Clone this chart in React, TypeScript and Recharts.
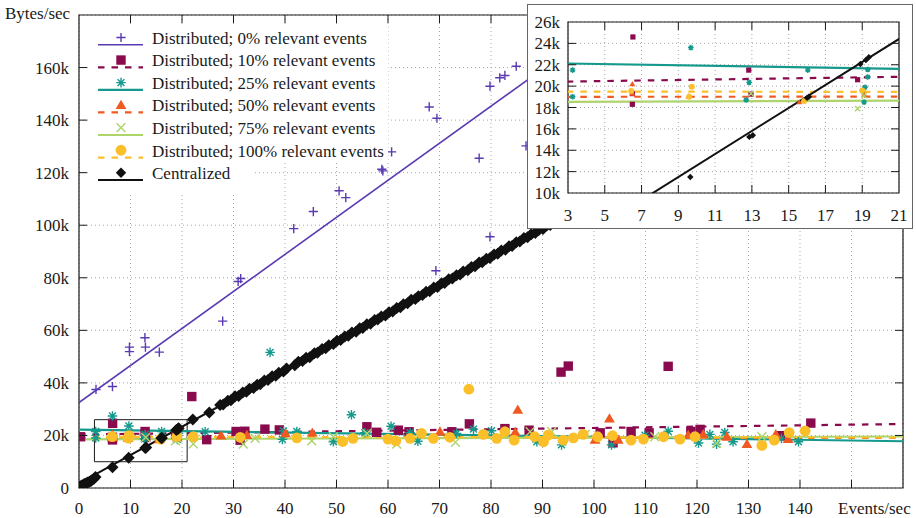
import React from 'react';
import { ComposedChart, Scatter, Line, XAxis, YAxis, CartesianGrid, ReferenceArea } from 'recharts';

// ---------- data (x: events/sec, y: thousands of bytes/sec) ----------
const xTicks = [0, 10, 20, 30, 40, 50, 60, 70, 80, 90, 100, 110, 120, 130, 140, 150, 160];
const yTicks = [0, 20, 40, 60, 80, 100, 120, 140, 160, 180];
const insetXTicks = [3, 5, 7, 9, 11, 13, 15, 17, 19, 21];
const insetYTicks = [10, 12, 14, 16, 18, 20, 22, 24, 26];

const seriesNames = [
  'Distributed; 0% relevant events',
  'Distributed; 10% relevant events',
  'Distributed; 25% relevant events',
  'Distributed; 50% relevant events',
  'Distributed; 75% relevant events',
  'Distributed; 100% relevant events',
  'Centralized',
];

const dist0Points = [
  [3.3, 37.5], [6.5, 38.6], [9.8, 53.6], [9.8, 51.9], [12.8, 57.2], [12.9, 53.6], [15.6, 51.7],
  [27.9, 63.5], [30.9, 78.6], [31.4, 79.7], [41.7, 98.7], [45.5, 105.2], [50.5, 113.1], [51.8, 110.5],
  [58.8, 121.3], [59.0, 120.7], [60.7, 127.9], [68.0, 145.0], [69.5, 140.7], [69.3, 82.7], [77.7, 125.5],
  [79.8, 95.6], [79.8, 152.9], [81.7, 156.1], [82.7, 157.0], [84.9, 160.5], [86.8, 130.2],
];
const dist10Points = [
  [0.3, 19.5], [6.53, 24.6], [6.5, 18.3], [6.5, 19.3], [12.83, 21.5], [12.95, 19.25], [18.75, 20.6],
  [21.9, 34.8], [24.8, 18.4], [30.5, 21.5], [31.3, 18.2], [32.2, 21.6], [36.1, 22.4], [38.9, 22.1],
  [55.9, 23.3], [57.8, 21.2], [62.0, 22.0], [64.1, 21.4], [72.4, 21.4], [75.8, 24.4], [82.7, 22.6],
  [87.4, 22.0], [93.6, 44.1], [95.0, 46.4], [101.2, 21.0], [103.7, 17.2], [107.2, 21.5], [110.7, 21.0],
  [114.4, 46.3], [118.8, 21.5], [120.6, 22.3], [136.2, 19.9], [142.1, 24.7],
];
const dist25Points = [
  [3.25, 21.5], [3.25, 19.0], [6.5, 27.4], [9.68, 23.6], [12.69, 18.7], [12.85, 20.35], [16.04, 21.5],
  [19.02, 19.55], [19.1, 18.5], [19.15, 19.9], [19.3, 20.85], [19.3, 21.55], [24.5, 21.4], [37.1, 51.6],
  [39.5, 18.5], [39.7, 21.7], [42.3, 21.5], [49.4, 17.6], [52.9, 27.9], [55.5, 21.0], [60.6, 23.5],
  [64.3, 21.0], [65.8, 17.8], [73.3, 20.8], [76.6, 22.4], [80.1, 21.8], [88.9, 17.6], [93.7, 16.4],
  [103.4, 16.4], [109.9, 20.1], [114.4, 21.6], [120.3, 17.1], [122.5, 20.4], [123.8, 16.7],
  [125.4, 21.1], [127.0, 17.6], [136.4, 18.9], [139.7, 17.6],
];
const dist50Points = [
  [6.5, 20.2], [6.5, 19.3], [9.55, 19.05], [15.58, 18.5], [19.1, 19.2], [27.6, 19.9], [32.6, 20.1],
  [40.1, 20.8], [45.3, 21.0], [70.1, 21.4], [84.7, 21.3], [85.2, 29.7], [100.2, 18.3], [103.0, 26.4],
  [104.7, 18.3], [118.3, 20.1], [121.2, 20.4], [125.8, 19.5], [129.7, 16.7], [135.3, 20.4], [137.7, 18.6],
];
const dist75Points = [
  [12.95, 19.3], [18.75, 17.9], [19.1, 19.1], [22.2, 16.8], [31.9, 16.7], [34.2, 18.9], [45.2, 17.9],
  [49.4, 19.5], [55.9, 20.8], [61.7, 16.7], [73.1, 17.4], [87.6, 21.4], [91.8, 21.4], [98.3, 20.4],
  [111.8, 19.5], [123.8, 17.0], [132.6, 19.5],
];
const dist100Points = [
  [6.44, 19.55], [9.59, 19.0], [9.73, 19.95], [15.84, 18.6], [19.0, 19.6], [22.2, 19.5], [31.3, 19.3],
  [42.3, 19.1], [51.2, 17.7], [53.2, 18.9], [60.0, 18.6], [61.5, 17.9], [64.3, 18.9], [66.5, 20.8],
  [68.8, 18.9], [72.0, 19.3], [75.7, 37.6], [78.5, 20.4], [81.1, 18.9], [82.7, 21.4], [84.5, 18.2],
  [88.5, 19.5], [90.2, 17.6], [91.1, 20.1], [94.0, 18.2], [96.0, 19.1], [97.9, 20.4], [100.7, 19.5],
  [103.6, 19.9], [107.2, 18.2], [109.6, 18.6], [113.5, 19.5], [116.7, 18.6], [119.6, 19.5],
  [132.6, 16.2], [135.0, 18.2], [137.9, 21.1], [141.0, 21.7],
];
const centralPoints = [
  [0, 0.4], [0.2, 0.6], [0.4, 0.8], [0.6, 1.0], [0.9, 1.3], [1.1, 1.5], [1.4, 1.8], [1.7, 2.1],
  [2.0, 2.4], [2.3, 2.7], [2.6, 3.1], [2.9, 3.5], [3.2, 4.2],
  [6.5, 7.9], [9.65, 11.5], [12.86, 15.25], [13.05, 15.4], [16.0, 18.9], [16.1, 19.0],
  [18.9, 22.07], [19.2, 22.45], [19.36, 22.7], [22.1, 26.1], [25.3, 28.7],
  [27.4, 31.6], [28.0, 31.8], [28.9, 33.2], [29.5, 33.4], [30.3, 34.9], [31.0, 35.0], [31.8, 36.3],
  [32.5, 36.6], [33.1, 37.8], [33.9, 38.1], [34.6, 39.3], [35.2, 39.5], [36.0, 40.9], [36.7, 41.1],
  [37.5, 42.5], [38.2, 42.7], [38.8, 43.9], [39.7, 44.3], [40.3, 45.5], [41.9, 46.7], [42.6, 48.0],
  [43.4, 48.3], [44.1, 49.6], [44.8, 49.8], [45.7, 51.3], [46.3, 51.5], [47.2, 52.9], [47.9, 53.2],
  [48.5, 54.3], [49.4, 54.8], [50.1, 56.0], [50.8, 56.3], [51.6, 57.7], [52.3, 57.9], [53.0, 59.2],
  [53.8, 59.5], [54.5, 60.8], [55.1, 60.9], [55.9, 62.3], [56.6, 62.5], [57.4, 63.9], [58.0, 64.1],
  [58.7, 65.3], [59.5, 65.6], [60.2, 66.9], [60.9, 67.2], [61.7, 68.5], [62.4, 68.8], [63.0, 69.9],
  [63.8, 70.3], [64.5, 71.6], [65.3, 71.9], [65.9, 73.0], [66.7, 73.4], [67.4, 74.7], [68.1, 74.9],
  [68.9, 76.3], [69.6, 76.5], [70.4, 77.9], [71.0, 78.0], [71.8, 79.4], [72.5, 79.7], [73.3, 81.0],
  [74.0, 81.2], [74.6, 82.4], [75.5, 82.9], [76.2, 84.1], [76.9, 84.4], [77.7, 85.8], [78.3, 85.9],
  [79.1, 87.2], [79.8, 87.5], [80.6, 88.9], [81.3, 89.1], [82.0, 90.4], [82.8, 90.7], [83.5, 92.0],
  [84.1, 92.1], [84.9, 93.5], [85.6, 93.8], [86.4, 95.1], [87.1, 95.4], [87.8, 96.6], [88.6, 97.0],
  [89.3, 98.2], [90.1, 98.6], [90.8, 99.9], [91.5, 100.1], [92.3, 101.5], [93.0, 101.7], [93.8, 103.1],
  [94.5, 103.3], [95.3, 104.7], [96.0, 105.0], [97.0, 106.5], [98.0, 107.1], [99.0, 108.7], [100.0, 109.3],
];

// fitted lines (start / end)
const dist0Fit = [[0, 32.5], [160, 258.1]];
const dist10Fit = [[0, 20.35], [160, 24.35]];
const dist25Fit = [[0, 22.2], [160, 17.8]];
const dist50Fit = [[0, 19.0], [160, 19.1]];
const dist75Fit = [[0, 18.5], [160, 19.6]];
const dist100Fit = [[0, 19.5], [160, 19.2]];
const centralFit = [[0, 1.8], [160, 174.1]];

// ---------- styling ----------
const FONT = "'Liberation Serif', 'Times New Roman', serif";
const FS = 17;
const TEXT = '#1a1a1a';
const colors = ['#5a3ab2', '#8a0a4e', '#14998c', '#f05a22', '#aed46c', '#fbbf2a', '#111111'];
const kinds = ['plus', 'square', 'star', 'triangle', 'cross', 'circle', 'diamond'];
const dashed = [false, true, false, true, false, true, false];
const lineWidths = [1.6, 2.2, 2.2, 2.2, 2.2, 2.2, 2.0];
const DASH = '6.5 7';

const toXY = (arr: number[][]) => arr.map(([x, y]) => ({ x, y }));
const pointSets = [dist0Points, dist10Points, dist25Points, dist50Points, dist75Points, dist100Points, centralPoints].map(toXY);
const fitSets = [dist0Fit, dist10Fit, dist25Fit, dist50Fit, dist75Fit, dist100Fit, centralFit].map(toXY);

const mainSizes = [4.6, 4.7, 4.8, 5.4, 4.4, 5.4, 6.0];
const legendSizes = [4.6, 4.7, 4.8, 5.4, 4.4, 5.4, 5.2];
const insetSizes = [2.6, 2.6, 2.8, 3.0, 2.6, 3.0, 3.2];

const textStyle = { fontFamily: FONT, fontSize: FS } as const;

function Marker({ kind, cx, cy, s, color }: { kind: string; cx: number; cy: number; s: number; color: string }) {
  if (cx == null || cy == null || isNaN(cx) || isNaN(cy)) return null;
  switch (kind) {
    case 'plus':
      return <path d={`M${cx - s} ${cy}H${cx + s}M${cx} ${cy - s}V${cy + s}`} stroke={color} strokeWidth={1.4} fill="none" />;
    case 'square':
      return <rect x={cx - s} y={cy - s} width={2 * s} height={2 * s} fill={color} />;
    case 'star': {
      const d = s * 0.72;
      return (
        <path
          d={`M${cx - s} ${cy}H${cx + s}M${cx} ${cy - s}V${cy + s}M${cx - d} ${cy - d}L${cx + d} ${cy + d}M${cx - d} ${cy + d}L${cx + d} ${cy - d}`}
          stroke={color}
          strokeWidth={1.4}
          fill="none"
        />
      );
    }
    case 'triangle':
      return <path d={`M${cx} ${cy - s}L${cx + s} ${cy + s * 0.72}L${cx - s} ${cy + s * 0.72}Z`} fill={color} />;
    case 'cross':
      return <path d={`M${cx - s} ${cy - s}L${cx + s} ${cy + s}M${cx - s} ${cy + s}L${cx + s} ${cy - s}`} stroke={color} strokeWidth={1.4} fill="none" />;
    case 'circle':
      return <circle cx={cx} cy={cy} r={s} fill={color} />;
    case 'diamond':
      return <path d={`M${cx} ${cy - s}L${cx + s} ${cy}L${cx} ${cy + s}L${cx - s} ${cy}Z`} fill={color} />;
    default:
      return null;
  }
}

// ---------- layout ----------
const W = 916;
const H = 518;
const PL = 79;
const PR = 903;
const PT = 15;
const PB = 488;

const IX = 528;
const IY = 5;
const IW = 384;
const IH = 223;
const IPL = 40;
const IPR = 371;
const IPT = 17;
const IPB = 188;

const TICK = 8;

function makeXTick(top: number, bottom: number, labelY: number, hidden: number[], first: number, last: number) {
  return (props: any) => {
    const { x, payload } = props;
    const v = payload.value;
    const edge = v === first || v === last;
    return (
      <g>
        {!edge && <line x1={x} x2={x} y1={bottom} y2={bottom - TICK} stroke={TEXT} strokeWidth={1} />}
        {!edge && <line x1={x} x2={x} y1={top} y2={top + TICK} stroke={TEXT} strokeWidth={1} />}
        {hidden.indexOf(v) < 0 && (
          <text x={x} y={labelY} textAnchor="middle" style={textStyle} fill={TEXT}>
            {String(v)}
          </text>
        )}
      </g>
    );
  };
}

function makeYTick(left: number, right: number, labelX: number, hidden: number[], first: number, last: number) {
  return (props: any) => {
    const { y, payload } = props;
    const v = payload.value;
    const edge = v === first || v === last;
    return (
      <g>
        {!edge && <line x1={left} x2={left + TICK} y1={y} y2={y} stroke={TEXT} strokeWidth={1} />}
        {!edge && <line x1={right} x2={right - TICK} y1={y} y2={y} stroke={TEXT} strokeWidth={1} />}
        {hidden.indexOf(v) < 0 && (
          <text x={labelX} y={y + 6} textAnchor="end" style={textStyle} fill={TEXT}>
            {v === 0 ? '0' : `${v}k`}
          </text>
        )}
      </g>
    );
  };
}

function seriesElements(sizes: number[], prefix: string) {
  const out: any[] = [];
  pointSets.forEach((pts, i) => {
    out.push(
      <Scatter
        key={`${prefix}s${i}`}
        data={pts}
        dataKey="y"
        isAnimationActive={false}
        shape={(p: any) => <Marker kind={kinds[i]} cx={p.cx} cy={p.cy} s={sizes[i]} color={colors[i]} />}
      />
    );
    out.push(
      <Line
        key={`${prefix}l${i}`}
        data={fitSets[i]}
        dataKey="y"
        type="linear"
        stroke={colors[i]}
        strokeWidth={lineWidths[i]}
        strokeDasharray={dashed[i] ? DASH : undefined}
        dot={false}
        activeDot={false}
        isAnimationActive={false}
      />
    );
  });
  return out;
}

export default function App() {
  return (
    <div style={{ position: 'absolute', left: 0, top: 0, width: W, height: H, background: '#fff' }}>
      <ComposedChart width={W} height={H} margin={{ top: PT, right: W - PR, bottom: 0, left: 0 }}>
        <CartesianGrid stroke="#a8a8a8" strokeDasharray="1 3" strokeWidth={1} />
        <XAxis
          type="number"
          dataKey="x"
          domain={[0, 160]}
          ticks={xTicks}
          interval={0}
          allowDataOverflow
          height={H - PB}
          axisLine={false}
          tickLine={false}
          tick={makeXTick(PT, PB, 514, [150, 160], 0, 160)}
        />
        <YAxis
          type="number"
          dataKey="y"
          domain={[0, 180]}
          ticks={yTicks}
          interval={0}
          allowDataOverflow
          width={PL}
          axisLine={false}
          tickLine={false}
          tick={makeYTick(PL, PR, 69, [180], 0, 180)}
        />
        <ReferenceArea x1={0} x2={160} y1={0} y2={180} fill="none" stroke={TEXT} strokeWidth={1.2} ifOverflow="visible" />
        <ReferenceArea x1={3} x2={21} y1={10} y2={26} fill="none" stroke={TEXT} strokeWidth={1} ifOverflow="visible" />
        {seriesElements(mainSizes, 'm')}
      </ComposedChart>

      {/* legend and axis titles */}
      <svg width={W} height={H} style={{ position: 'absolute', left: 0, top: 0, pointerEvents: 'none' }}>
        <rect x={88} y={24} width={300} height={139} fill="#fff" />
        <rect x={88} y={163} width={165} height={32} fill="#fff" />
        {seriesNames.map((name, i) => {
          const cy = 38.3 + i * 22.55;
          return (
            <g key={name}>
              <line
                x1={98}
                x2={143}
                y1={cy + 6.5}
                y2={cy + 6.5}
                stroke={colors[i]}
                strokeWidth={lineWidths[i]}
                strokeDasharray={dashed[i] ? DASH : undefined}
              />
              <Marker kind={kinds[i]} cx={121} cy={cy - 0.8} s={legendSizes[i]} color={colors[i]} />
              <text x={152} y={cy + 5.5} style={textStyle} fill={TEXT}>
                {name}
              </text>
            </g>
          );
        })}
        <text x={5} y={19} style={textStyle} fill={TEXT}>
          Bytes/sec
        </text>
        <text x={838} y={514} style={textStyle} fill={TEXT}>
          Events/sec
        </text>
      </svg>

      {/* inset */}
      <div
        style={{
          position: 'absolute',
          left: IX,
          top: IY,
          width: IW,
          height: IH,
          background: '#fff',
          outline: '1.5px solid #666',
        }}
      >
        <ComposedChart width={IW} height={IH} margin={{ top: IPT, right: IW - IPR, bottom: 0, left: 0 }}>
          <CartesianGrid stroke="#a8a8a8" strokeDasharray="1 3" strokeWidth={1} />
          <XAxis
            type="number"
            dataKey="x"
            domain={[3, 21]}
            ticks={insetXTicks}
            interval={0}
            allowDataOverflow
            height={IH - IPB}
            axisLine={false}
            tickLine={false}
            tick={makeXTick(IPT, IPB, 216, [], 3, 21)}
          />
          <YAxis
            type="number"
            dataKey="y"
            domain={[10, 26]}
            ticks={insetYTicks}
            interval={0}
            allowDataOverflow
            width={IPL}
            axisLine={false}
            tickLine={false}
            tick={makeYTick(IPL, IPR, 32, [], 10, 26)}
          />
          <ReferenceArea x1={3} x2={21} y1={10} y2={26} fill="none" stroke={TEXT} strokeWidth={1.2} ifOverflow="visible" />
          {seriesElements(insetSizes, 'i')}
        </ComposedChart>
      </div>
    </div>
  );
}
